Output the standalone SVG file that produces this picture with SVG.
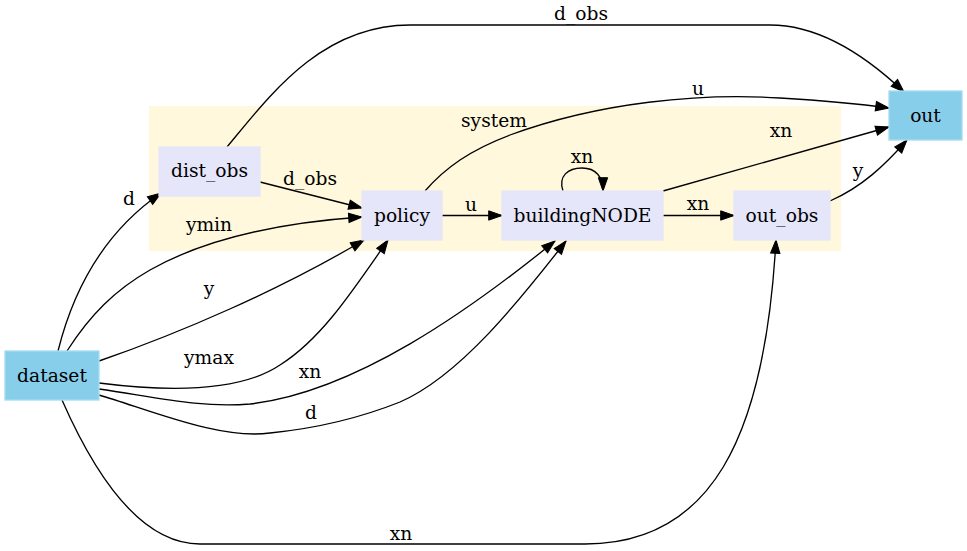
<svg xmlns="http://www.w3.org/2000/svg" width="967" height="551" viewBox="0 0 967 551">
<defs>
<style>
.edge{fill:none;stroke:#000;stroke-width:1.33;marker-end:url(#ah)}
.inner rect{fill:#e6e6fa;stroke:#e6e6fa;stroke-width:1.33}
.io rect{fill:#87ceeb;stroke:#a6dbf0;stroke-width:1.33}
text{font-family:"DejaVu Serif","Liberation Serif",serif;font-size:18.67px;fill:#000;text-anchor:middle}
</style>
<marker id="ah" markerUnits="userSpaceOnUse" markerWidth="16" markerHeight="12" refX="13.3" refY="4.67" orient="auto" overflow="visible">
<path d="M0,0 L13.3,4.67 L0,9.33 z" fill="#000" stroke="#000" stroke-width="1"/>
</marker>
</defs>
<rect width="967" height="551" fill="#fff"/>
<g id="cluster_system">
<rect x="149" y="106" width="692" height="145" fill="#fff8dc"/>
<text x="494" y="127">system</text>
</g>
<g id="connectors">
<path class="edge" d="M58,351 C72,295 100,235 161,193"/>
<text x="129" y="205">d</text>
<path class="edge" d="M67,351 C90,315 115,290 150,270 C210,236 290,222 362,217"/>
<text x="209" y="231">ymin</text>
<path class="edge" d="M99,361 C180,333 280,290 364,240"/>
<text x="209" y="295">y</text>
<path class="edge" d="M99,383 C170,392 240,392 280,365 C320,340 350,295 388,240"/>
<text x="209" y="364">ymax</text>
<path class="edge" d="M99,389 C160,398 200,408 250,404 C355,392 470,310 555,241"/>
<text x="310" y="378">xn</text>
<path class="edge" d="M99,395 C150,410 220,440 270,433 C320,428 360,418 400,402 C460,376 520,300 566,241"/>
<text x="311" y="419">d</text>
<path class="edge" d="M62,400 C95,475 140,544 200,544 L585,544 C710,544 765,440 776,240"/>
<text x="401" y="540">xn</text>
<path class="edge" d="M260,182 L362,208"/>
<text x="310" y="185">d_obs</text>
<path class="edge" d="M227,147 C268,98 320,25 410,25 L770,25 C820,25 865,55 904,92"/>
<text x="581" y="20">d_obs</text>
<path class="edge" d="M442,215.5 L502,215.5"/>
<text x="471" y="211">u</text>
<path class="edge" d="M425,191 C445,168 470,150 510,135 C600,102 700,93 780,98 C830,101 860,104 889,108"/>
<text x="698" y="95">u</text>
<path class="edge" d="M563,191 C558,176 568,168 582,168 C596,168 603,177 603,191"/>
<text x="582" y="163">xn</text>
<path class="edge" d="M663,191 L889,127"/>
<text x="781" y="137">xn</text>
<path class="edge" d="M663,215.5 L734,215.5"/>
<text x="698" y="210">xn</text>
<path class="edge" d="M830,201 C862,187 885,165 907,140"/>
<text x="858" y="177">y</text>
</g>
<g id="dataset" class="io">
<rect x="5" y="351" width="94" height="49"/>
<text x="52" y="382">dataset</text>
</g>
<g id="out" class="io">
<rect x="889" y="91" width="73" height="49"/>
<text x="925.5" y="122">out</text>
</g>
<g id="dist_obs" class="inner">
<rect x="159" y="147" width="101" height="49"/>
<text x="209.5" y="177">dist_obs</text>
</g>
<g id="policy" class="inner">
<rect x="362" y="191" width="80" height="49"/>
<text x="402" y="222">policy</text>
</g>
<g id="buildingNODE" class="inner">
<rect x="502" y="191" width="161" height="49"/>
<text x="582.5" y="222">buildingNODE</text>
</g>
<g id="out_obs" class="inner">
<rect x="734" y="191" width="96" height="49"/>
<text x="782" y="222">out_obs</text>
</g>
</svg>
